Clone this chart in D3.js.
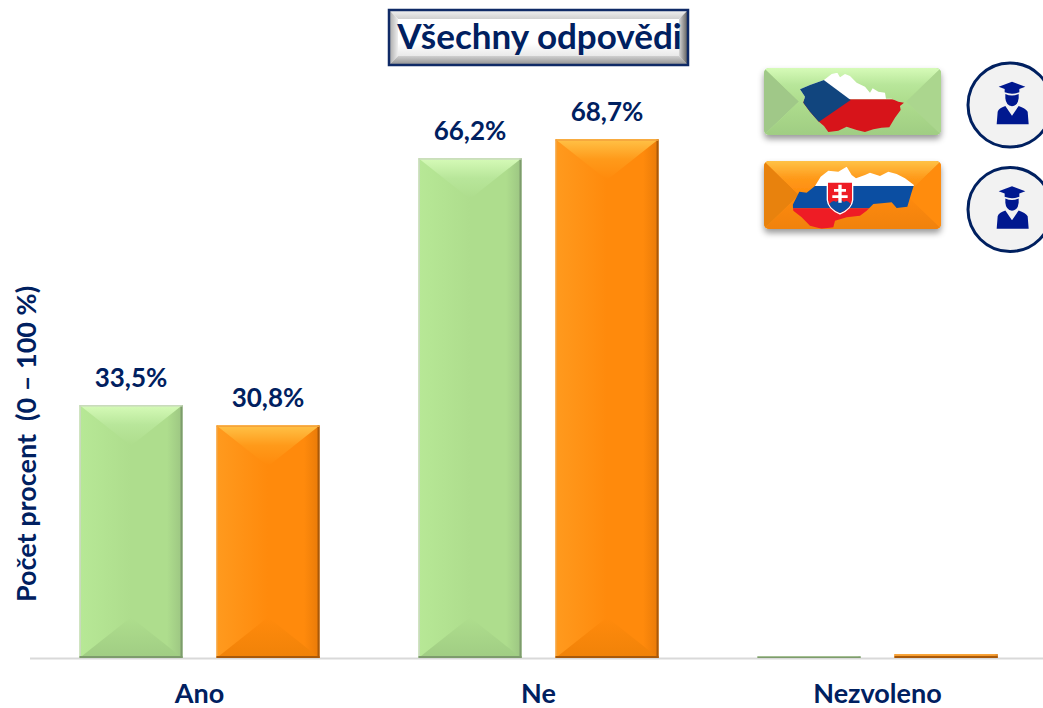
<!DOCTYPE html>
<html>
<head>
<meta charset="utf-8">
<script src="https://cdnjs.cloudflare.com/ajax/libs/d3/7.8.5/d3.min.js"></script>
<style>
html,body{margin:0;padding:0;background:#fff;overflow:hidden}
text{font-family:Lato,"Open Sans",sans-serif;font-weight:700;fill:#002060}
.cat .domain{display:none}
</style>
</head>
<body>
<div id="chart"></div>
<script>
var categories = ["Ano","Ne","Nezvoleno"];
var seriesNames = ["CZ","SK"];
var czValues = [33.5,66.2,0.2];
var skValues = [30.8,68.7,0.5];
var valueLabels = [["33,5%","66,2%",""],["30,8%","68,7%",""]];
var chartTitle = "Všechny odpovědi";
var yTitle = "Počet procent  (0 – 100 %)";

var width = 1043, height = 708;
var svg = d3.select("#chart").append("svg").attr("width",width).attr("height",height);
var defs = svg.append("defs");

var palette = {
	CZ:{left:"#b7e896",mid:"#aedd8d",right:"#9cc582",top:"#d6fbb8",topEnd:"#b8e69a",bottom:"#a0cd83",edge:"#7d9c6c",lip:"#c9d9bd",sideL:"#a0c888",sideR:"#abd68e"},
	SK:{left:"#ff9a1e",mid:"#ff8a0c",right:"#e87a08",top:"#ffc247",topEnd:"#ff9a1a",bottom:"#f08208",edge:"#a9590a",lip:"#f5a33c",sideL:"#e88210",sideR:"#ff8c0e"}
};

function linGrad(id,x2,y2,stops){
	var g = defs.append("linearGradient").attr("id",id)
		.attr("x1",0).attr("y1",0).attr("x2",x2).attr("y2",y2);
	stops.forEach(function(s){ g.append("stop").attr("offset",s[0]).attr("stop-color",s[1]); });
}
seriesNames.forEach(function(s){
	var p = palette[s];
	linGrad("body"+s,1,0,[[0,p.left],[0.5,p.mid],[0.85,p.mid],[1,p.right]]);
	linGrad("top"+s,0,1,[[0,p.top],[0.5,p.topEnd],[1,p.mid]]);
	linGrad("bot"+s,0,1,[[0,p.mid],[1,p.bottom]]);
});
linGrad("titleFace",0,1,[[0,"#ffffff"],[0.6,"#ffffff"],[1,"#d9d9d9"]]);
linGrad("titleTop",0,1,[[0,"#f2f2f2"],[1,"#d0d0d0"]]);
linGrad("titleBot",0,1,[[0,"#cfcfcf"],[1,"#8f8f8f"]]);
linGrad("titleL",1,0,[[0,"#a6a6a6"],[1,"#eeeeee"]]);
linGrad("titleR",1,0,[[0,"#d8d8d8"],[1,"#555555"]]);

var shadow = defs.append("filter").attr("id","soft").attr("x","-10%").attr("y","-10%").attr("width","120%").attr("height","130%");
shadow.append("feDropShadow").attr("dx",0).attr("dy",4).attr("stdDeviation",3).attr("flood-color","#000").attr("flood-opacity",0.4);

// scales
var y = d3.scaleLinear().domain([0,100]).range([658,-97]);
var xGroup = d3.scaleBand().domain(categories).range([30,1047]);
var xSeries = d3.scaleBand().domain(seriesNames).range([0,xGroup.bandwidth()]).paddingInner(0.248).paddingOuter(0.361);

// baseline
svg.append("line").attr("x1",30).attr("x2",1043).attr("y1",y(0)+0.5).attr("y2",y(0)+0.5)
	.attr("stroke","#d9d9d9").attr("stroke-width",2);

function poly(g,pts,fill){
	g.append("polygon").attr("points",pts.map(function(p){return p.join(",");}).join(" ")).attr("fill",fill);
}

// bevelled block used for the bars and the legend keys
function bevel(g,x,yy,w,h,s,depth,inset,sides){
	var p = palette[s];
	g.append("rect").attr("x",x).attr("y",yy).attr("width",w).attr("height",h).attr("fill","url(#body"+s+")");
	var d = Math.min(depth,h/2);
	var ax = x+inset, bx = x+w-inset;
	if(sides){
		poly(g,[[x,yy],[ax,yy+d],[ax,yy+h-d],[x,yy+h]],p.sideL);
		poly(g,[[x+w,yy],[bx,yy+d],[bx,yy+h-d],[x+w,yy+h]],p.sideR);
	}
	poly(g,[[x,yy],[x+w,yy],[bx,yy+d],[ax,yy+d]],"url(#top"+s+")");
	poly(g,[[x,yy+h],[x+w,yy+h],[bx,yy+h-d],[ax,yy+h-d]],"url(#bot"+s+")");
}

var barData = [];
seriesNames.forEach(function(s,si){
	var vals = si==0 ? czValues : skValues;
	categories.forEach(function(c,ci){
		barData.push({cat:c,series:s,value:vals[ci],label:valueLabels[si][ci]});
	});
});

svg.append("g").selectAll("g").data(barData).enter().append("g").each(function(d){
	var g = d3.select(this), p = palette[d.series];
	var x = xGroup(d.cat)+xSeries(d.series), w = xSeries.bandwidth();
	var top = y(d.value), h = y(0)-top;
	bevel(g,x,top,w,h,d.series,Math.min(40,h/2),w/2-1,false);
	// edges of the block
	g.append("rect").attr("x",x).attr("y",top).attr("width",1.5).attr("height",h).attr("fill",p.lip);
	g.append("rect").attr("x",x+w-2).attr("y",top).attr("width",2).attr("height",h).attr("fill",p.edge);
	g.append("rect").attr("x",x).attr("y",top).attr("width",w).attr("height",Math.min(1.5,h)).attr("fill",p.lip);
	g.append("rect").attr("x",x).attr("y",y(0)-Math.min(2,h)).attr("width",w).attr("height",Math.min(2,h)).attr("fill",p.edge);
	if(d.label) g.append("text").attr("x",x+w/2).attr("y",top-18).attr("text-anchor","middle")
		.attr("font-size",26).text(d.label);
});

// category axis
var catAxis = svg.append("g").attr("class","cat").attr("transform","translate(0,"+y(0)+")")
	.call(d3.axisBottom(xGroup).tickSize(0).tickPadding(0));
catAxis.selectAll("text").attr("y",45).attr("dy",0).attr("font-size",27)
	.style("font-family",'Lato,"Open Sans",sans-serif').style("font-weight",700);

// y title
svg.append("text").attr("transform","translate(36,444) rotate(-90)").attr("text-anchor","middle")
	.attr("font-size",27).attr("xml:space","preserve").style("white-space","pre").text(yTitle);

// title box
var tx0=389,ty0=10,tx1=688,ty1=65,tb=9;
var tg = svg.append("g");
tg.append("rect").attr("x",tx0).attr("y",ty0).attr("width",tx1-tx0).attr("height",ty1-ty0).attr("fill","url(#titleFace)");
poly(tg,[[tx0,ty0],[tx1,ty0],[tx1-tb,ty0+tb],[tx0+tb,ty0+tb]],"url(#titleTop)");
poly(tg,[[tx0,ty1],[tx1,ty1],[tx1-tb,ty1-tb],[tx0+tb,ty1-tb]],"url(#titleBot)");
poly(tg,[[tx0,ty0],[tx0+tb,ty0+tb],[tx0+tb,ty1-tb],[tx0,ty1]],"url(#titleL)");
poly(tg,[[tx1,ty0],[tx1-tb,ty0+tb],[tx1-tb,ty1-tb],[tx1,ty1]],"url(#titleR)");
tg.append("rect").attr("x",tx0).attr("y",ty0).attr("width",tx1-tx0).attr("height",ty1-ty0)
	.attr("fill","none").attr("stroke","#0f2a66").attr("stroke-width",2.5);
tg.append("text").attr("x",(tx0+tx1)/2+1).attr("y",49).attr("text-anchor","middle").attr("font-size",35).text(chartTitle);

// legend keys
var keys = [{s:"CZ",y:68,h:67},{s:"SK",y:161,h:68}];
keys.forEach(function(k){
	var g = svg.append("g").attr("filter","url(#soft)");
	var cid = "clip"+k.s;
	defs.append("clipPath").attr("id",cid).append("rect").attr("x",764).attr("y",k.y).attr("width",177).attr("height",k.h).attr("rx",5);
	bevel(g.append("g").attr("clip-path","url(#"+cid+")"),764,k.y,177,k.h,k.s,k.h*0.5,35,true);
});

// flags, drawn in crop coords (3x) from the corner 750,50
var flags = svg.append("g").attr("transform","translate(750,50) scale(0.3333)");
var czShape = "M150,118L180,105L222,90L245,72L262,68L270,82L285,72L300,78L320,98L345,110L360,128L368,115L385,125L405,128L408,146L425,146L445,155L462,158L450,168L452,180L435,203L418,232L395,233L370,238L345,246L320,240L290,230L265,242L235,246L222,228L205,214L180,185L160,158L165,140Z";
var skShape = "M128,465L148,425L170,428L195,408L212,380L235,362L265,365L290,350L305,375L318,385L345,375L360,368L390,378L415,365L440,372L465,385L492,405L484,430L472,470L440,474L425,457L395,460L370,462L350,482L330,497L290,502L255,512L250,532L215,536L180,527L155,502L130,482Z";
defs.append("clipPath").attr("id","czMap").append("path").attr("d",czShape);
defs.append("clipPath").attr("id","skMap").append("path").attr("d",skShape);
var cz = flags.append("g").attr("clip-path","url(#czMap)");
cz.append("rect").attr("x",100).attr("y",40).attr("width",400).attr("height",108).attr("fill","#fff");
cz.append("rect").attr("x",100).attr("y",148).attr("width",400).attr("height",120).attr("fill","#d7141a");
cz.append("path").attr("d","M100,0L302,150L100,289Z").attr("fill","#11457e");
var sk = flags.append("g").attr("clip-path","url(#skMap)");
sk.append("rect").attr("x",100).attr("y",340).attr("width",420).attr("height",68).attr("fill","#fff");
sk.append("rect").attr("x",100).attr("y",408).attr("width",420).attr("height",67).attr("fill","#0b4ea2");
sk.append("rect").attr("x",100).attr("y",475).attr("width",420).attr("height",70).attr("fill","#ee1c25");
var shieldPath = "M232,396H308V450Q306,476 270,492Q234,476 232,450Z";
flags.append("path").attr("d",shieldPath).attr("fill","#ee1c25").attr("stroke","#fff").attr("stroke-width",4);
flags.append("path").attr("d","M238,462Q250,448 258,456Q270,444 282,456Q292,448 302,462Q296,478 270,489Q244,478 238,462Z").attr("fill","#0b4ea2");
flags.append("path").attr("d","M265,404h10v13h13v8h-13v11h18v8h-18v14h-10v-14h-18v-8h18v-11h-13v-8h13z").attr("fill","#fff");

// student badges
[105,209.5].forEach(function(cy){
	var b = svg.append("g").attr("transform","translate(1010,"+cy+")");
	b.append("circle").attr("r",42).attr("fill","#f2f2f2").attr("stroke","#002060").attr("stroke-width",3);
	var ic = b.append("g").attr("transform","translate(2,0) scale(0.3333)").attr("fill","#00188f");
	ic.append("path").attr("d","M-40,-55L0,-70L40,-55L22,-48V-38Q0,-30 -22,-38V-48Z");
	ic.append("path").attr("d","M-20,-33Q0,-24 20,-33V-20Q18,2 0,4Q-18,2 -20,-20Z");
	ic.append("path").attr("d","M-46,58L-43,20Q-40,10 -20,3L0,32L20,3Q40,10 47,20L50,58Z");
});
</script>
</body>
</html>
